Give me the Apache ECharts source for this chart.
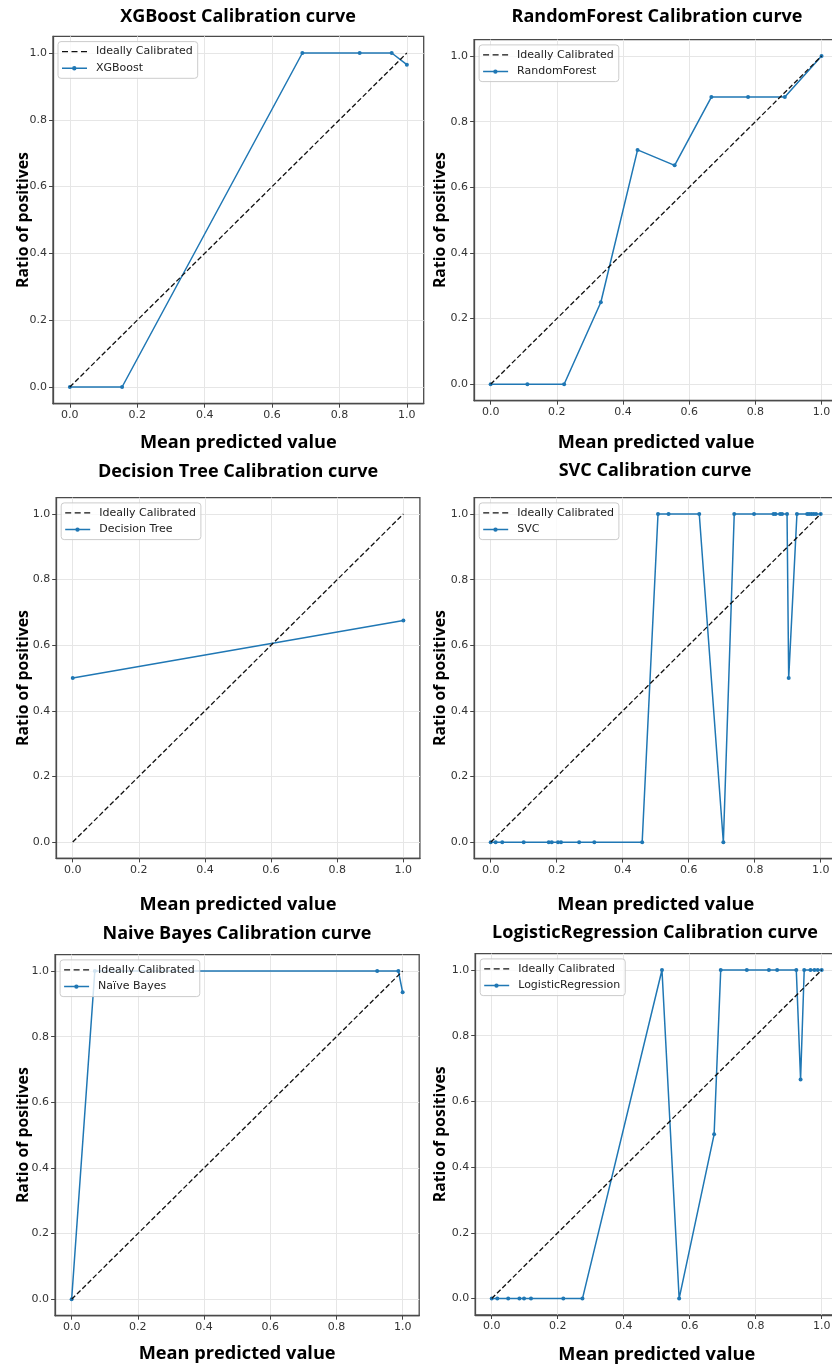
<!DOCTYPE html>
<html><head><meta charset="utf-8">
<script src="https://cdn.jsdelivr.net/npm/echarts@6/dist/echarts.min.js"></script>
<style>html,body{margin:0;padding:0;background:#fff}#c{width:832px;height:1367px}</style>
</head><body><div id="c"></div>
<script>
// ---- data ----
const tickValues = [0, 0.2, 0.4, 0.6, 0.8, 1.0];
const idealX = [0, 1];
const idealY = [0, 1];

const xgbX = [0, 0.155, 0.69, 0.86, 0.955, 1.0];
const xgbY = [0, 0, 1, 1, 1, 0.965];

const rfX = [0, 0.111, 0.222, 0.333, 0.444, 0.556, 0.667, 0.778, 0.889, 1.0];
const rfY = [0, 0, 0, 0.25, 0.714, 0.667, 0.875, 0.875, 0.875, 1.0];

const dtX = [0, 1.0];
const dtY = [0.5, 0.675];

const svcX = [0, 0.015, 0.035, 0.1, 0.176, 0.185, 0.204, 0.213, 0.268, 0.314, 0.459,
              0.507, 0.539, 0.632, 0.705, 0.738, 0.798, 0.857, 0.863, 0.877, 0.883, 0.898,
              0.903, 0.928, 0.959, 0.965, 0.972, 0.979, 0.986, 1.0];
const svcY = [0, 0, 0, 0, 0, 0, 0, 0, 0, 0, 0,
              1, 1, 1, 0, 1, 1, 1, 1, 1, 1, 1,
              0.5, 1, 1, 1, 1, 1, 1, 1];

const nbX = [0, 0.07, 0.923, 0.987, 1.0];
const nbY = [0, 1, 1, 1, 0.935];

const lrX = [0, 0.017, 0.05, 0.084, 0.098, 0.119, 0.217, 0.275, 0.516, 0.568, 0.674,
             0.694, 0.773, 0.840, 0.865, 0.923, 0.936, 0.947, 0.966, 0.978, 0.988, 1.0];
const lrY = [0, 0, 0, 0, 0, 0, 0, 0, 1, 0, 0.5,
             1, 1, 1, 1, 1, 0.667, 1, 1, 1, 1, 1];

const modelNames = ['XGBoost', 'RandomForest', 'Decision Tree', 'SVC', 'Naïve Bayes', 'LogisticRegression'];
const titles = ['XGBoost Calibration curve', 'RandomForest Calibration curve', 'Decision Tree Calibration curve',
                'SVC Calibration curve', 'Naive Bayes Calibration curve', 'LogisticRegression Calibration curve'];
const xs = [xgbX, rfX, dtX, svcX, nbX, lrX];
const ys = [xgbY, rfY, dtY, svcY, nbY, lrY];
const idealName = 'Ideally Calibrated';
const xAxisName = 'Mean predicted value';
const yAxisName = 'Ratio of positives';

// ---- layout (pixels) ----
const layout = [
  {left: 53,    top: 36.3,  width: 370.7, height: 367.4, gx: 30, gy: 22, tx: 238, ty: 17},
  {left: 474.1, top: 39.6,  width: 364,   height: 361.1, gx: 33, gy: 26, tx: 657, ty: 17},
  {left: 56.2,  top: 497.6, width: 363.7, height: 360.8, gx: 37, gy: 25, tx: 238, ty: 472},
  {left: 474.2, top: 497.6, width: 363,   height: 361,   gx: 37, gy: 26, tx: 655, ty: 471},
  {left: 55.1,  top: 954.6, width: 364.1, height: 361.1, gx: 29, gy: 24, tx: 237, ty: 934},
  {left: 475.2, top: 953.6, width: 363,   height: 361.4, gx: 31, gy: 27, tx: 655, ty: 933}
];

const BLUE = '#1f77b4';
const TITLE_FONT = 'Open Sans';
const DASH_ICON = 'path://M0,0h6v1.4h-6z M9.5,0h6v1.4h-6z M19,0h6v1.4h-6z';
const DOT_ICON = 'path://M0,1.55h25v1.5h-25z M10.1,2.3a2.2,2.2 0 1,1 4.4,0a2.2,2.2 0 1,1 -4.4,0z';

const zip = (a, b) => a.map((v, i) => [v, b[i]]);

const grid = [], xAxis = [], yAxis = [], series = [], legend = [], graphic = [];
layout.forEach((L, i) => {
  grid.push({left: L.left, top: L.top, width: L.width, height: L.height, show: true,
    borderColor: '#4a4a4a', borderWidth: 1.3, backgroundColor: 'transparent',
    containLabel: false, outerBoundsMode: 'none'});
  const axisCommon = {
    type: 'value', gridIndex: i, min: -0.05, max: 1.05,
    nameLocation: 'middle', nameMoveOverlap: false,
    axisLine: {show: true, onZero: false, lineStyle: {color: '#4a4a4a', width: 1.3}},
    axisTick: {show: true, inside: false, length: 4, customValues: tickValues, lineStyle: {color: '#444', width: 1}},
    axisLabel: {show: true, margin: 6, customValues: tickValues, color: '#333', fontSize: 11,
      fontFamily: 'DejaVu Sans', formatter: v => v.toFixed(1)},
    splitLine: {show: true, lineStyle: {color: '#e6e6e6', width: 1}}
  };
  xAxis.push(Object.assign({}, axisCommon, {name: xAxisName, nameGap: L.gx,
    nameTextStyle: {fontFamily: TITLE_FONT, fontWeight: 'bold', fontSize: 18.2, color: '#000'}}));
  yAxis.push(Object.assign({}, axisCommon, {name: yAxisName, nameGap: L.gy, nameRotate: 90,
    nameTextStyle: {fontFamily: TITLE_FONT, fontWeight: 'bold', fontSize: 15.8, color: '#000'}}));
  series.push({type: 'line', name: idealName, xAxisIndex: i, yAxisIndex: i,
    data: zip(idealX, idealY), symbol: 'none', color: '#111',
    lineStyle: {color: '#111', width: 1.3, type: [5, 2.5]}, z: 3, silent: true});
  series.push({type: 'line', name: modelNames[i], xAxisIndex: i, yAxisIndex: i,
    data: zip(xs[i], ys[i]), symbol: 'circle', symbolSize: 4, showAllSymbol: true, color: BLUE,
    itemStyle: {color: BLUE, borderWidth: 0},
    lineStyle: {color: BLUE, width: 1.5}, z: 2, silent: true});
  legend.push({data: [{name: idealName, icon: DASH_ICON}, {name: modelNames[i], icon: DOT_ICON}],
    left: L.left + 5, top: L.top + 5.3, orient: 'vertical',
    itemWidth: 25, itemHeight: 12, itemGap: 4.7, padding: [4, 5, 4, 4],
    borderColor: '#cccccc', borderWidth: 1, borderRadius: 3,
    backgroundColor: 'rgba(255,255,255,0.8)',
    itemStyle: {borderWidth: 0}, selectedMode: false,
    textStyle: {fontFamily: 'DejaVu Sans', fontSize: 11, color: '#222', padding: [0, 0, 0, 4], lineHeight: 12}});
  graphic.push({type: 'text', x: L.tx, y: L.ty, silent: true,
    style: {text: titles[i], fill: '#000', font: 'bold 18px "Open Sans"',
      align: 'center', verticalAlign: 'middle', textAlign: 'center', textVerticalAlign: 'middle'}});
});

const chart = echarts.init(document.getElementById('c'), null, {renderer: 'canvas'});
chart.setOption({backgroundColor: '#fff', animation: false, grid, xAxis, yAxis, series, legend, graphic});
</script>
</body></html>
